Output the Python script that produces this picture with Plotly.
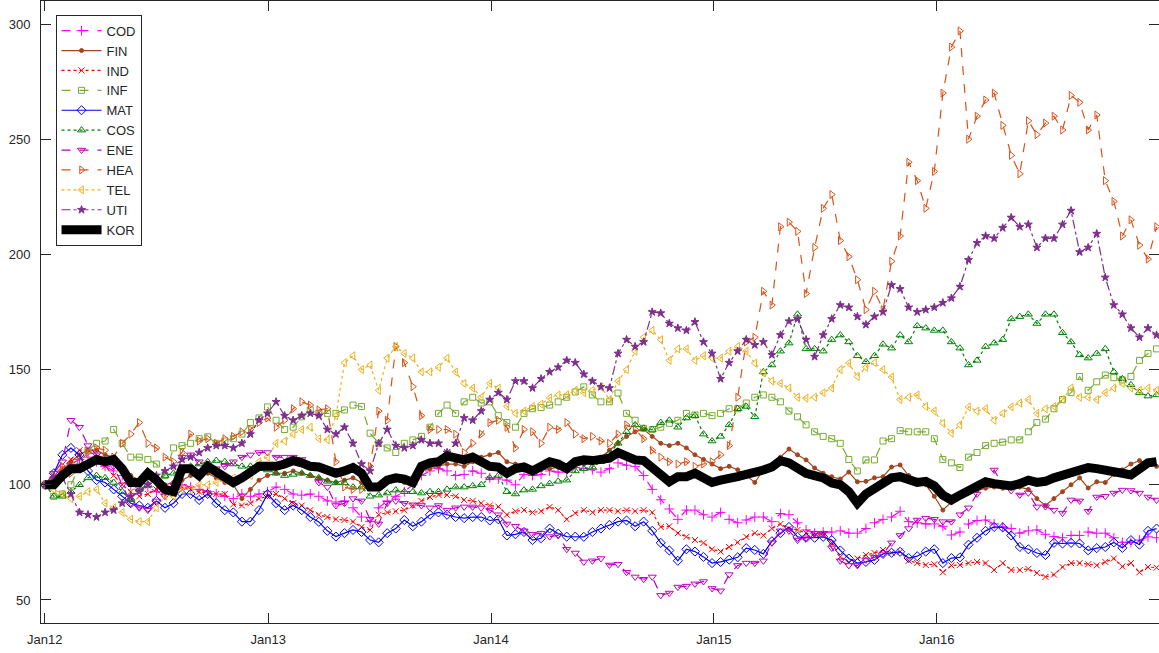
import pandas as pd
import plotly.graph_objects as go

dates = pd.date_range("2012-01-02", periods=131, freq="14D")

COD = [100,103,106,109,111,112,110,108,106,104,100,98,99,97,96,98,100,99,98,97,96,95,94,96,95,96,
       97,99,98,96,95.5,96,95,93,92.5,93,90,86,84,90,93,95,97,100,104,106,107,106,104,104.5,106,105,103,
       102.5,102,100,104.5,104,104.5,106,105.5,105.5,107.5,107,106.5,105.5,107,109.5,108.5,108,104,98,93.5,89.5,85,89,89,87,86,
       88,85,83.5,84.7,86,86,84,87.5,87,83.5,80.4,79,79.5,79.5,80,79,79,81,83.5,85,86,88.5,84,83.5,83,83,
       82,78.2,79.5,83,84.5,84.7,83,81.7,81,79,80,80.4,78.5,77.5,77,78,78,79.5,79,79,77,75,75,76,77.4,77]
FIN = [100,102,106,110,113,115,115,113,112,108,104,102,103,101,100,101,102,104,104,105,103,101,100,94,98,102,
       104,105,105,106,105,104,103,102,101,102,103,101,100,99,101,102,101,103,106,107,108,109,109,108,110,112,113,
       114,110,109,108,107,106.5,107,107.5,106.4,108,109,110,112,115,118,121,123,124,121,118,117,118,116,113,111,109,
       107,108,106.5,104,101,106.4,107,112,115.5,113,110.8,107.3,105,103.5,102.5,105.5,101.3,101.5,103,103.5,107.7,108.6,104,102,100,95,
       89,92.5,95.5,96.5,97.5,98.5,99,98.5,98.5,99,98,94,91,94,97,100,103,98.6,101.3,101,104.5,106.5,109,110.5,109,108]
IND = [100,103,107,111,115,115,112,108,104,100,97,95,96,98,98,99,99,98,97,96.4,96,96,91.5,91,92,94,
       95,96,94,92,91,89,87,86,85,84.7,84,81.7,80.4,87,88,88.5,89,91,93,94.7,95.6,95.6,95,93.4,93,92,91,
       90.5,87,88.5,89,88,88.5,90.4,89,85,87.7,89,88,89,89,88.5,89,88.5,89,88,81.7,82,79,77.4,76,74.8,72,
       71,73,75,77.4,79,78,81,83,81,80.4,79,78,78.5,74.8,68.7,66.5,68,69.5,70.4,71.7,70.5,71,67,66,65.2,65.5,
       62,65,65.2,66,66.5,66,63,66,63,63,63.5,61.7,60,61,64.3,66,66,65.5,65,66.5,68,64.5,66,62,64.3,64]
INF = [100,95,96,100,108,115,118,119,124,118,112,112,111,109,104,116,117,118,120,120.8,118,119,120,122,127,129,
       133.8,128,124,125,129.5,132.5,131,131,131,132.5,134.6,134,122.4,118,116,114,118,119.5,121,125,131,134.6,131,136,138,135.5,136,
       130,127,125,131,133,133.5,134.6,136,138,140.3,142.5,139,136,136,139.8,131,128,124.5,124,125,126.7,128,131,130.3,131,130,
       131,133,133,135.5,138,139,138,136,132,129.5,126,123,121,120,118,111,106,110.8,110.8,119,120,123.5,123,123,123,120,
       111,109.5,107.5,112,114,117,118,118.5,119.5,119.5,123,127,128.5,133,137,140,147,141,144.7,147.6,146.5,145.5,147,154,157,159]
MAT = [100,105,113,116,113,106,102,101,98,95,92,91,90,93,90,92,96,96,93.4,96,92,89,88,84,84,89,
       96,92,89,91,89,86,83.9,80,77.5,79,80.4,79.5,76,75,79,81,84.7,82,84,87,88,87,86,85.5,86,86,84.5,
       85,78,78.5,79.5,76,76.8,81,78.8,77.5,77.5,77.4,79.5,81,82.6,84,84.5,82,84,80,74.8,71.5,67,72,71,68.7,66,
       66.5,67.5,68.5,72.5,71.7,70,75.5,79,81.7,77.4,77,77,77.4,76,71.5,68,66,66.5,67.4,70,70.5,70.9,68.2,69,71,72,
       66,68.2,68.5,74,77,80,81.7,81.5,78,73,72,70.4,69.5,74.8,74.5,74.8,74.5,71.5,72.5,73,75,72.6,76,74,80,81]
COS = [100,95,95,97,100,103,104,103,101,97,94,98,100,103,104,105,106,108,109,110,110.5,110,109,108,108,107,
       106.4,105,104,104.5,105,104,103,101.5,100.8,100.8,99,99,95,95.5,96.4,97.7,97,97,96.4,97,97,98,99,99,99.5,100,103,
       104,97,96,97.7,98,99.5,100.5,101.5,102,106,107,107.7,110,113.5,118,123,126,124.5,124,127,128,125,129,130,122,119,
       121,126,133,134,129.5,149,152,158,161.5,174,159,159,158,163,165,162,156,153.4,156,161,159.3,165,162,169,168,167,
       167,162,159.3,152,154,160,161.5,163,172,173,174,170,174,174,166,162,156.4,155,157,159,149,146,143.4,140,138.5,139]
ENE = [100,105,110,128,125,117,113,111,108,100,92,90,89,93,95,100,112,113,110,108,107,108,110,112,113,114,
       114,112,112,112,111,108,101,99,91,92,94,93,85,83,92,93,92,91.3,91,90,91,89,90,90.4,90.4,90,89,
       87,83,82,80,78.5,79,77.5,78,72,70.4,66.5,67,68,65.2,65.5,62,60,59,60,52,53,55.6,56,57,58,55,
       54,61,65,66,66,67,74.8,80,80,76,77,79,79,72.6,67,65,65,67.4,68.5,70,74.8,78,81,84.7,85.5,85,
       84,84,87,90,96,100,106.4,100,97.5,95.6,96.5,90.4,90.5,89,87.7,93.4,93,88.5,94.7,95,96.4,97.7,97.5,96.4,94.7,93.4]
HEA = [100,104,108,105,110,114,116,115,112,118,122,127,118,116,112,110,114,122,119,120,118,120,121,123,124,127,
       129,125,128,133,136,134.6,132.5,133,110,99,98,98,108,132,128,160,153,142.6,130,124,124,124,122,114,118,122,127,
       128,125,116,124,123,118,125,124,127,122,120,121,119,118,122,126,124,120,115,112,110,109,110,108,109,110,
       113,117,138,162,164,184,178,212,214,210,183,203,220,226,206,199,189,176,184,176,197,208,240,232,220,236,
       270,290,297,250,260,267,270,256,243,235,258,252,257,260,254,269,266,254,260.5,232,223,208,215,204,198,212]
TEL = [100,98,96,94,95,97,98,92,90,88,85,84,84,90,95,95,98,98,100,100,101,102,103,103,104,110,
       112,118,119,122,124,125,120,119.5,130,153,156,150,152,141,155,160,157,155,149,149,151,155,149,144,142,138,144,
       142,134,131,132,134,135,137.7,139,139,141,140,141,142.5,137,145,150,158,164,167,163,154,159,159,154,156,155,
       155,158,160,158,152.8,148.5,145,144,142,138,137.6,138,140,142,150,152.8,147,151,153,150,146.8,137,138,139,134,132,
       126.7,122.4,126,133.8,132,133,128,131,133.8,135.5,137,131,133,134,137,142,138,138,137,140,142,144,142,141,142,141]
UTI = [100,103,103,96,88,87,86,88,89,92,95,97,100,104,106,108,111,112,114,116,117,117,116,118,122,128,
       131,136,130,128,130,131,130,124,122,125,118,109,106,118,124,117,116,117,119.5,118,118,114,118,129,128,132,137,
       140,137,145,145,142,146,149,151,154,153,148,145,142.5,142,157,163,160,162,175,174.5,170,168,167,170.7,162,157,
       146,153,158,163,160.7,162,156.4,165,171,172,163,155.6,165,172,178,177,173,169.5,173,175,186.7,185,177,175,176,177,
       179,181,186,197.6,205,208,207,211.5,216,212,213,203,207,207,213,219,201,203,209,190,178,174,168,164,168,165]
KOR = [100,100,104,107,107,109,111,110,111,107,101,101,105,102,98,97,107,107,104,108,106,103,101,103,106,108,
       108,108,109,110.5,109.5,108,107.7,106,105,106,107.5,105,99,99,102,103,102.5,101,108,109.5,110,112.5,112,110.8,112,110,108,
       107.7,105,107,107.7,106,108,110,109,107,110,110.8,110.5,110.8,111.5,114,112,110.8,110.5,107.5,105,101.3,103.5,103.5,105,103.5,101,
       102,102.5,103.5,104.5,105,106.4,107.7,110.5,109.5,107.3,105,104,103,100.8,100,97,92,96,98,100.8,103,103.5,102,101,101.5,99.5,
       95.5,93.4,95.5,97.5,99.5,101.3,100.5,100,99.5,100.5,102,101,101.5,103,104,105,106,107.5,107,106.4,106.5,105,104.3,107,109.5,110]

tick_dates = ["2012-01-01", "2013-01-01", "2014-01-01", "2015-01-01", "2016-01-01"]
tick_text = ["Jan12", "Jan13", "Jan14", "Jan15", "Jan16"]
y_ticks = [50, 100, 150, 200, 250, 300]

series = [
    ("COD", COD, "#FF00FF", "dash", "cross-thin-open", 7),
    ("FIN", FIN, "#A0461E", "solid", "circle", 4),
    ("IND", IND, "#FF0000", "dot", "x-thin-open", 6),
    ("INF", INF, "#77AC30", "dash", "square-open", 6),
    ("MAT", MAT, "#0000FF", "solid", "diamond-open", 7),
    ("COS", COS, "#008000", "dot", "triangle-up-open", 7),
    ("ENE", ENE, "#C000C0", "dash", "triangle-down-open", 7),
    ("HEA", HEA, "#D95319", "dash", "triangle-right-open", 7),
    ("TEL", TEL, "#EDB120", "dot", "triangle-left-open", 7),
    ("UTI", UTI, "#7E2F8E", "dashdot", "star", 6),
]

fig = go.Figure()
for name, vals, color, dash, sym, size in series:
    if len(vals) != len(dates):
        raise ValueError(f"{name} has {len(vals)} values")
    fig.add_trace(go.Scatter(
        x=dates, y=vals, name=name, mode="lines+markers",
        line=dict(color=color, width=1.2, dash=dash),
        marker=dict(symbol=sym, size=size, color=color, line=dict(color=color, width=1)),
    ))
if len(KOR) != len(dates):
    raise ValueError("KOR length")
fig.add_trace(go.Scatter(x=dates, y=KOR, name="KOR", mode="lines",
                         line=dict(color="black", width=9)))

axis_style = dict(showline=True, linecolor="#262626", linewidth=1, mirror="ticks",
                  ticks="inside", ticklen=10, tickcolor="#262626", showgrid=False,
                  zeroline=False, tickfont=dict(size=13, color="#262626"))

fig.update_layout(
    width=1159, height=653,
    margin=dict(l=41, r=0, t=1, b=30),
    plot_bgcolor="white", paper_bgcolor="white",
    font=dict(family="Liberation Sans, Arial, sans-serif", size=13, color="#262626"),
    showlegend=True,
    legend=dict(x=0.013, y=0.978, xanchor="left", yanchor="top",
                bordercolor="#262626", borderwidth=1, bgcolor="white",
                font=dict(size=13, color="#262626"), itemwidth=40, tracegroupgap=0),
    xaxis=dict(type="date", range=["2011-12-26", "2016-12-30"],
               tickvals=tick_dates, ticktext=tick_text, ticklabelstandoff=4, **axis_style),
    yaxis=dict(range=[40, 310], tickvals=y_ticks, ticklabelstandoff=7, **axis_style),
)

fig.write_html("out.html", config={"displayModeBar": False},
               post_script="document.body.style.margin='0px';document.body.style.overflow='hidden';")
